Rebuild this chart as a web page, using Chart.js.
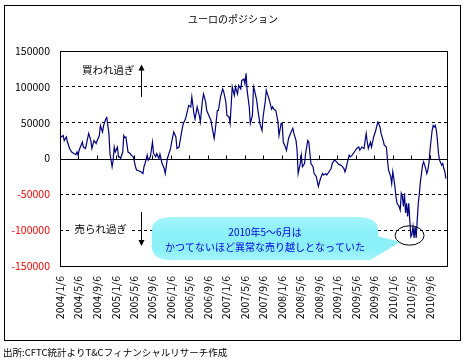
<!DOCTYPE html>
<html>
<head>
<meta charset="utf-8">
<script src="https://cdn.jsdelivr.net/npm/chart.js@4.4.0/dist/chart.umd.min.js"></script>
<style>
body { margin: 0; background: #fff; }
canvas { display: block; }
</style>
</head>
<body>
<canvas id="myChart" width="467" height="361"></canvas>
<script>
// DATA (weeks counted from 2004/1/6, net position in contracts)
var weekNo = [0,1,3,4,6,7,9,11,13,15,16,17,18,21,22,24,25,27,29,30,32,34,35,37,38,40,41,43,44,46,47,49,50,51,52,54,55,56,57,59,
  60,61,62,64,66,67,69,71,72,74,76,78,79,80,82,83,85,87,88,90,91,93,94,96,98,99,101,102,104,105,107,109,110,112,113,115,116,118,120,121,
  123,124,126,127,129,131,132,134,135,137,138,140,142,143,145,146,148,149,151,153,154,156,157,159,160,162,164,165,167,168,170,171,173,174,175,176,178,179,181,182,
  183,185,186,188,190,191,193,194,196,197,199,200,201,203,205,206,208,209,210,212,213,215,216,218,219,220,222,223,224,226,227,228,230,231,233,234,236,238,239,241,
  243,245,247,248,250,251,253,255,256,258,259,261,262,264,265,267,268,269,270,272,273,275,278,279,281,282,284,286,287,288,289,290,292,293,295,297,298,299,301,302,
  304,305,307,308,309,311,312,313,314,315,316,317,319,320,321,322,323,324,325,326,327,328,329,330,331,332,333,334,335,336,337,338,339,340,341,342,344,345,346,347,
  348,350,351,352,353,354,355,356,357,359,360,361,362,363];
var netPos = [28000,30000,32000,25000,30000,23000,14000,9000,7000,5500,9000,4600,11500,23000,16000,14000,21000,35000,25000,14000,25000,21000,25000,32000,46000,37000,46000,55000,57000,35000,7000,-11500,-2300,16000,9000,16000,2300,2300,0,9000,
  32000,29000,30000,9000,7000,4600,2300,-11500,-16000,-17000,-18500,-21000,-11500,-7000,4600,-2300,2300,23000,7000,2300,7000,0,6000,-7000,-14000,-21000,0,4600,14000,23000,37000,30000,14000,16000,25000,42000,49000,55000,67000,74000,
  72000,86000,62500,55000,72000,60000,51000,81000,90000,79000,67000,60000,53000,44000,28000,39000,67000,67000,86000,97000,93000,79000,60000,58000,49000,100000,88000,100000,90000,102000,97000,109000,111000,104000,119000,95000,72000,49000,60000,100000,
  95000,81000,69000,49000,39000,58000,79000,95000,86000,81000,69000,72000,69000,67000,51000,32000,49000,49000,23000,16000,11500,28000,32000,39000,42000,35000,25000,11500,-21000,-7000,4600,-11500,-7000,7000,25000,23000,-7000,-11500,-21000,-25000,
  -39000,-28000,-21000,-23000,-21000,-23000,-18500,-14000,-7000,-2300,-3200,-6000,-8000,-9300,-10000,-14000,-18500,-14000,-7000,4600,2300,5000,11500,14000,16000,11500,16000,14000,25000,35000,23000,14000,23000,16000,30000,39000,46000,51000,44000,35000,
  25000,18500,16000,-2300,-16000,-25000,-35000,-18500,-28000,-39000,-53000,-62500,-67000,-72000,-48600,-53000,-67000,-48600,-76000,-62500,-81000,-62500,-86000,-109000,-106000,-95000,-111000,-95000,-111000,-86000,-62500,-48600,-32000,-21000,-9300,-4600,-14000,-21000,-16000,-7000,
  11500,39000,46000,44000,46000,39000,25000,7000,-2300,-9300,-7000,-14000,-18500,-28000];
var tickDates = ['2004/1/6','2004/5/6','2004/9/6','2005/1/6','2005/5/6','2005/9/6','2006/1/6','2006/5/6','2006/9/6','2007/1/6',
  '2007/5/6','2007/9/6','2008/1/6','2008/5/6','2008/9/6','2009/1/6','2009/5/6','2009/9/6','2010/1/6','2010/5/6','2010/9/6'];
var titleText = 'ユーロのポジション';
var sourceText = '出所:CFTC統計よりT&Cフィナンシャルリサーチ作成';
var calloutLines = ['2010年5～6月は', 'かつてないほど異常な売り越しとなっていた'];

var JP = '"Noto Sans CJK JP", sans-serif';

function weeksFromStart(s){
    var p = s.split('/');
    return (Date.UTC(+p[0], p[1] - 1, +p[2]) - Date.UTC(2004, 0, 6)) / (7 * 86400000);
}
var tickWeeks = tickDates.map(weeksFromStart);

// annotation anchors, in data units (week, value)
var notes = {
    over:  { text: '買われ過ぎ', week: 45.4, value: 123000 },
    under: { text: '売られ過ぎ', week: 38.3, value: -98000 },
    arrowX: 76.6,
    arrowUp: [86000, 131000],
    arrowDown: [-74500, -122000],
    box: { w1: 86.4, w2: 299.2, v1: -81500, v2: -142000 },
    tip: { week: 320.2, value: -116300 },
    textValues: [-103200, -124200],
    ring: { week: 328.8, value: -107400 }
};

function arrow(ctx, x, yFrom, yTo){
    var dir = yTo < yFrom ? 1 : -1;
    ctx.beginPath();
    ctx.moveTo(x, yFrom);
    ctx.lineTo(x, yTo + dir * 5);
    ctx.stroke();
    ctx.beginPath();
    ctx.moveTo(x, yTo);
    ctx.lineTo(x - 3, yTo + dir * 6);
    ctx.lineTo(x + 3, yTo + dir * 6);
    ctx.closePath();
    ctx.fill();
}

var extras = {
    id: 'extras',
    beforeDatasetsDraw: function(chart){
        var ctx = chart.ctx, a = chart.chartArea, xs = chart.scales.x, ys = chart.scales.y;
        var y0 = Math.round(ys.getPixelForValue(0)) + 0.5;
        ctx.save();
        ctx.strokeStyle = '#000';
        ctx.lineWidth = 1;
        ctx.beginPath();
        ctx.moveTo(a.left, y0);
        ctx.lineTo(a.right, y0);
        tickWeeks.forEach(function(w){
            var px = Math.round(xs.getPixelForValue(w)) + 0.5;
            ctx.moveTo(px, y0);
            ctx.lineTo(px, y0 - 4);
        });
        ctx.stroke();
        ctx.restore();
    },
    afterDatasetsDraw: function(chart){
        var ctx = chart.ctx, xs = chart.scales.x, ys = chart.scales.y;
        function X(w){ return xs.getPixelForValue(w); }
        function Y(v){ return ys.getPixelForValue(v); }
        ctx.save();
        ctx.textAlign = 'center';
        ctx.textBaseline = 'middle';
        ctx.fillStyle = '#000';
        ctx.strokeStyle = '#000';
        ctx.lineWidth = 1;

        // overbought / oversold labels
        ctx.font = '10.5px ' + JP;
        ctx.fillText(notes.over.text, X(notes.over.week), Y(notes.over.value));
        var uw = ctx.measureText(notes.under.text).width;
        var ux = X(notes.under.week), uy = Y(notes.under.value);
        ctx.fillStyle = '#fff';
        ctx.fillRect(ux - uw / 2 - 3, uy - 7, uw + 6, 14);
        ctx.fillStyle = '#000';
        ctx.fillText(notes.under.text, ux, uy);

        var ax = Math.round(X(notes.arrowX)) + 0.5;
        arrow(ctx, ax, Y(notes.arrowUp[0]), Y(notes.arrowUp[1]));
        arrow(ctx, ax, Y(notes.arrowDown[0]), Y(notes.arrowDown[1]));

        // callout
        var L = X(notes.box.w1), R = X(notes.box.w2), T = Y(notes.box.v1), B = Y(notes.box.v2);
        var tx = X(notes.tip.week), ty = Y(notes.tip.value);
        var rx = 20, ry = 14;
        var g = ctx.createLinearGradient(0, T, 0, B);
        g.addColorStop(0, '#a6f5fc');
        g.addColorStop(0.35, '#8cf0f9');
        g.addColorStop(0.75, '#8cf0f9');
        g.addColorStop(1, '#a6f5fc');
        ctx.fillStyle = g;
        ctx.beginPath();
        ctx.moveTo(L + rx, T);
        ctx.lineTo(R - rx, T);
        ctx.quadraticCurveTo(R, T, R, T + ry);
        ctx.lineTo(R, T + (B - T) * 0.45);
        ctx.lineTo(tx, ty);
        ctx.lineTo(R - 8, B);
        ctx.lineTo(L + rx, B);
        ctx.quadraticCurveTo(L, B, L, B - ry);
        ctx.lineTo(L, T + ry);
        ctx.quadraticCurveTo(L, T, L + rx, T);
        ctx.closePath();
        ctx.fill();

        ctx.fillStyle = '#0000ee';
        ctx.font = '10px ' + JP;
        var cx = (L + R) / 2;
        calloutLines.forEach(function(s, i){
            ctx.fillText(s, cx, Y(notes.textValues[i]));
        });

        // ring around the 2010 low
        ctx.beginPath();
        ctx.ellipse(X(notes.ring.week), Y(notes.ring.value), 14.5, 9.7, 0, 0, Math.PI * 2);
        ctx.stroke();
        ctx.restore();
    },
    afterDraw: function(chart){
        var ctx = chart.ctx, a = chart.chartArea;
        ctx.save();
        ctx.strokeStyle = '#000';
        ctx.lineWidth = 1;
        ctx.strokeRect(Math.round(a.left) + 0.5, Math.round(a.top) + 0.5,
            Math.round(a.right - a.left), Math.round(a.bottom - a.top));
        ctx.strokeRect(4.5, 5.5, 456, 335);
        ctx.fillStyle = '#000';
        ctx.textBaseline = 'middle';
        ctx.font = '10px ' + JP;
        ctx.textAlign = 'center';
        ctx.fillText(titleText, 233, 19);
        ctx.textAlign = 'left';
        ctx.font = '9.5px ' + JP;
        ctx.fillText(sourceText, 3, 352);
        ctx.restore();
    }
};

function drawChart(){
    Chart.defaults.font.family = JP;
    Chart.defaults.font.size = 10.5;
    Chart.defaults.color = '#000';
    var ctx = document.getElementById('myChart').getContext('2d');
    var chart = new Chart(ctx, {
        type: 'line',
        data: {
            datasets: [{
                label: 'ユーロ',
                data: weekNo.map(function(w, i){ return { x: w, y: netPos[i] }; }),
                borderColor: '#000080',
                backgroundColor: '#000080',
                borderWidth: 1.2,
                pointRadius: 0,
                tension: 0
            }]
        },
        options: {
            responsive: false,
            animation: false,
            devicePixelRatio: 1,
            layout: { padding: { top: 51, right: 20, left: 0, bottom: 0 } },
            plugins: { legend: { display: false }, tooltip: { enabled: false } },
            scales: {
                x: {
                    type: 'linear',
                    min: 0,
                    max: 364,
                    afterBuildTicks: function(scale){
                        scale.ticks = tickWeeks.map(function(w){ return { value: w }; });
                    },
                    afterFit: function(scale){ scale.height = 95; },
                    grid: { display: false, drawTicks: false },
                    border: { display: false },
                    ticks: {
                        autoSkip: false,
                        minRotation: 90,
                        maxRotation: 90,
                        padding: 10,
                        callback: function(v, i){ return tickDates[i]; }
                    }
                },
                y: {
                    min: -150000,
                    max: 150000,
                    afterFit: function(scale){ scale.width = 60; },
                    grid: {
                        drawTicks: false,
                        color: function(c){
                            var v = c.tick ? c.tick.value : 0;
                            return (v === 0 || Math.abs(v) === 150000) ? 'rgba(0,0,0,0)' : '#000';
                        }
                    },
                    border: { display: false, dash: [3, 3] },
                    ticks: {
                        stepSize: 50000,
                        padding: 10,
                        color: function(c){ return c.tick && c.tick.value < 0 ? '#ff0000' : '#000'; },
                        callback: function(v){ return String(v); }
                    }
                }
            }
        },
        plugins: [extras]
    });
}

drawChart();
</script>
</body>
</html>
